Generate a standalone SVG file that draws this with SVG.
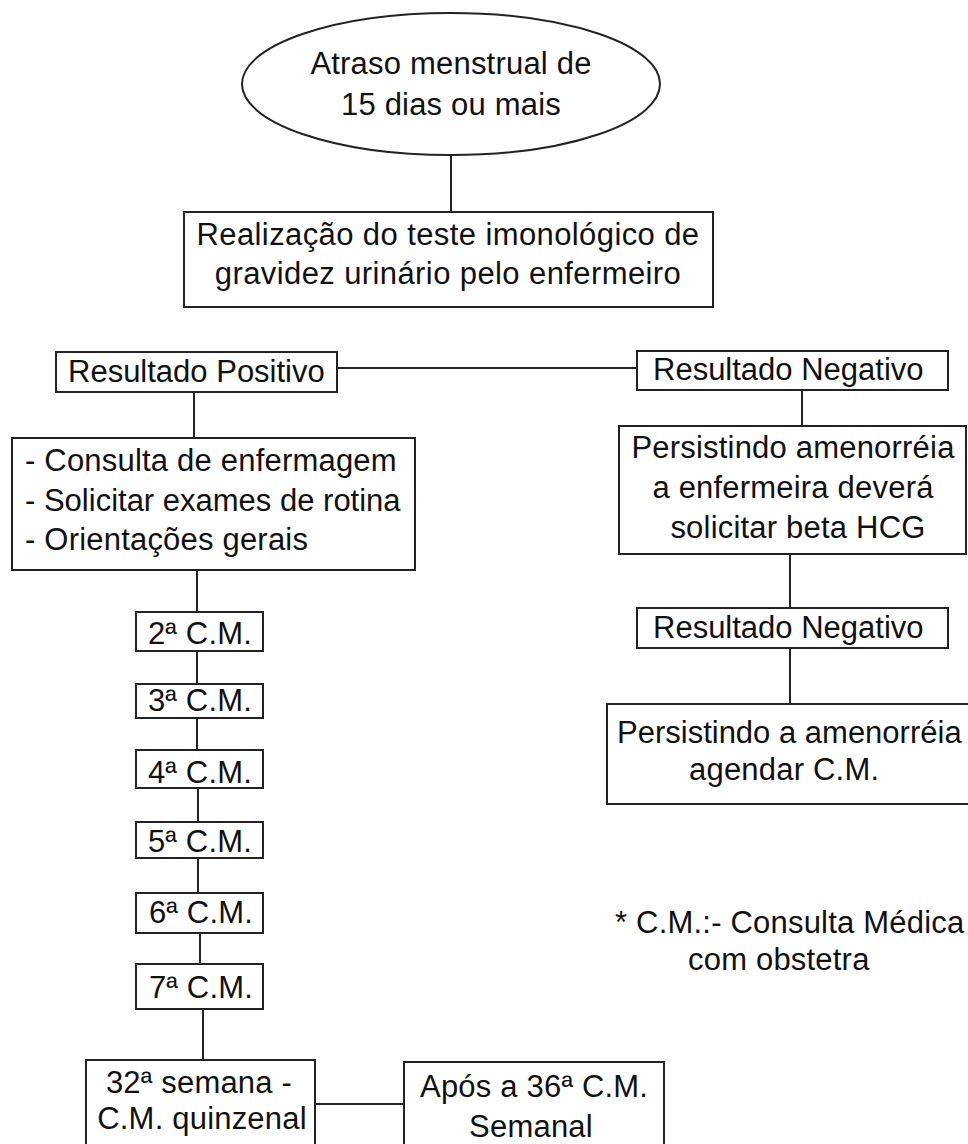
<svg xmlns="http://www.w3.org/2000/svg" width="968" height="1144" viewBox="0 0 968 1144">
<style>
.n{fill:#fff;stroke:#222;stroke-width:2}
.c{stroke:#222;stroke-width:2;fill:none}
text{font-family:"Liberation Sans",Arial,sans-serif;font-size:31px;letter-spacing:0.2px;fill:#111}
.t{letter-spacing:0}
</style>
<rect width="968" height="1144" fill="#fff"/>
<g id="connectors">
<line class="c" x1="451" y1="155" x2="451" y2="212"/>
<line class="c" x1="337" y1="368" x2="637" y2="368"/>
<line class="c" x1="194" y1="392" x2="194" y2="438"/>
<line class="c" x1="802" y1="390" x2="802" y2="426"/>
<line class="c" x1="790" y1="554" x2="790" y2="608"/>
<line class="c" x1="790" y1="648" x2="790" y2="704"/>
<line class="c" x1="197" y1="570" x2="197" y2="612"/>
<line class="c" x1="197" y1="651" x2="197" y2="684"/>
<line class="c" x1="197" y1="718" x2="197" y2="750"/>
<line class="c" x1="198" y1="788" x2="198" y2="822"/>
<line class="c" x1="198" y1="858" x2="198" y2="893"/>
<line class="c" x1="200" y1="933" x2="200" y2="964"/>
<line class="c" x1="203" y1="1009" x2="203" y2="1060"/>
<line class="c" x1="315" y1="1104" x2="404" y2="1104"/>
</g>
<g id="start">
<ellipse class="n" cx="451" cy="84" rx="209" ry="71"/>
<text x="451" y="74" text-anchor="middle">Atraso menstrual de</text>
<text x="451" y="115" text-anchor="middle">15 dias ou mais</text>
</g>
<g id="teste">
<rect class="n" x="184" y="212" width="529" height="95"/>
<text x="448" y="245" text-anchor="middle" style="letter-spacing:0.4px">Realização do teste imonológico de</text>
<text x="448" y="284" text-anchor="middle" style="letter-spacing:0.4px">gravidez urinário pelo enfermeiro</text>
</g>
<g id="positivo">
<rect class="n" x="56" y="352" width="281" height="40"/>
<text class="t" x="68" y="382">Resultado Positivo</text>
</g>
<g id="negativo1">
<rect class="n" x="637" y="351" width="311" height="39"/>
<text class="t" x="653" y="380">Resultado Negativo</text>
</g>
<g id="consulta">
<rect class="n" x="12" y="438" width="403" height="132"/>
<text x="25" y="471">- Consulta de enfermagem</text>
<text class="t" x="25" y="511">- Solicitar exames de rotina</text>
<text x="25" y="550">- Orientações gerais</text>
</g>
<g id="persistindo1">
<rect class="n" x="619" y="426" width="347" height="128"/>
<text x="793" y="458" text-anchor="middle">Persistindo amenorréia</text>
<text x="793" y="498" text-anchor="middle">a enfermeira deverá</text>
<text x="798" y="538" text-anchor="middle">solicitar beta HCG</text>
</g>
<g id="negativo2">
<rect class="n" x="637" y="608" width="311" height="40"/>
<text class="t" x="653" y="638">Resultado Negativo</text>
</g>
<g id="persistindo2">
<rect class="n" x="607" y="704" width="366" height="100"/>
<text class="t" x="617" y="743">Persistindo a amenorréia</text>
<text x="689" y="780">agendar C.M.</text>
</g>
<g id="cm2"><rect class="n" x="136" y="612" width="127" height="39"/><text x="200" y="644" text-anchor="middle">2ª C.M.</text></g>
<g id="cm3"><rect class="n" x="136" y="684" width="127" height="34"/><text x="200" y="711" text-anchor="middle">3ª C.M.</text></g>
<g id="cm4"><rect class="n" x="136" y="750" width="127" height="38"/><text x="200" y="783" text-anchor="middle">4ª C.M.</text></g>
<g id="cm5"><rect class="n" x="136" y="822" width="127" height="36"/><text x="200" y="852" text-anchor="middle">5ª C.M.</text></g>
<g id="cm6"><rect class="n" x="136" y="893" width="127" height="40"/><text x="201" y="923" text-anchor="middle">6ª C.M.</text></g>
<g id="cm7"><rect class="n" x="136" y="964" width="127" height="45"/><text x="201" y="998" text-anchor="middle">7ª C.M.</text></g>
<g id="semana32">
<rect class="n" x="86" y="1060" width="229" height="90"/>
<text x="199" y="1093" text-anchor="middle">32ª semana -</text>
<text x="202" y="1129" text-anchor="middle">C.M. quinzenal</text>
</g>
<g id="apos36">
<rect class="n" x="404" y="1062" width="260" height="90"/>
<text x="420" y="1097">Após a 36ª C.M.</text>
<text x="531" y="1137" text-anchor="middle">Semanal</text>
</g>
<g id="legenda">
<text x="615" y="933">* C.M.:- Consulta Médica</text>
<text x="688" y="970">com obstetra</text>
</g>
</svg>
